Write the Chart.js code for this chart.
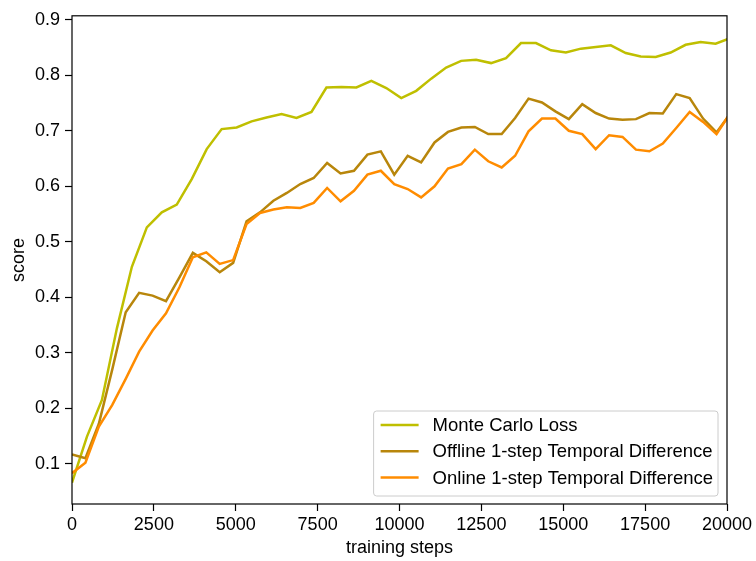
<!DOCTYPE html>
<html>
<head>
<meta charset="utf-8">
<script src="https://cdn.jsdelivr.net/npm/chart.js@4.4.1/dist/chart.umd.min.js"></script>
<style>
  html, body { margin: 0; padding: 0; background: #fff; }
  canvas { display: block; }
</style>
</head>
<body>
<canvas id="scoreChart" width="756" height="561"></canvas>
<script>
// Monte Carlo runs were evaluated on a slightly coarser step grid than the TD runs
const mcSteps = [0, 457, 914, 1371, 1828, 2285, 2742, 3199, 3656, 4113,
  4570, 5027, 5484, 5941, 6398, 6855, 7312, 7769, 8226, 8683,
  9140, 9597, 10054, 10511, 10968, 11425, 11882, 12339, 12796, 13253,
  13710, 14167, 14624, 15081, 15538, 15995, 16452, 16909, 17366, 17823,
  18280, 18737, 19194, 19651, 20108];
const mcScore = [0.066, 0.149, 0.215, 0.344, 0.455, 0.526, 0.553, 0.567, 0.613, 0.667,
  0.703, 0.706, 0.717, 0.724, 0.730, 0.723, 0.734, 0.778, 0.779, 0.778,
  0.790, 0.777, 0.759, 0.772, 0.794, 0.814, 0.826, 0.828, 0.822, 0.831,
  0.858, 0.858, 0.845, 0.841, 0.848, 0.851, 0.854, 0.840, 0.834, 0.833,
  0.841, 0.855, 0.860, 0.857, 0.867];

const tdSteps = [0, 410, 820, 1230, 1640, 2050, 2460, 2870, 3280, 3690,
  4100, 4510, 4920, 5330, 5740, 6150, 6560, 6970, 7380, 7790,
  8200, 8610, 9020, 9430, 9840, 10250, 10660, 11070, 11480, 11890,
  12300, 12710, 13120, 13530, 13940, 14350, 14760, 15170, 15580, 15990,
  16400, 16810, 17220, 17630, 18040, 18450, 18860, 19270, 19680, 20090];
const offlineTdScore = [0.117, 0.110, 0.172, 0.270, 0.373, 0.408, 0.403, 0.393, 0.436, 0.480,
  0.465, 0.445, 0.462, 0.537, 0.553, 0.574, 0.588, 0.604, 0.615, 0.642,
  0.623, 0.628, 0.657, 0.663, 0.621, 0.655, 0.643, 0.679, 0.698, 0.706,
  0.707, 0.694, 0.694, 0.723, 0.758, 0.751, 0.735, 0.721, 0.748, 0.732,
  0.722, 0.720, 0.721, 0.732, 0.731, 0.766, 0.759, 0.722, 0.697, 0.730];
const onlineTdScore = [0.083, 0.102, 0.167, 0.206, 0.253, 0.302, 0.340, 0.371, 0.418, 0.472,
  0.481, 0.460, 0.467, 0.532, 0.552, 0.558, 0.562, 0.561, 0.570, 0.597,
  0.573, 0.592, 0.621, 0.628, 0.604, 0.595, 0.580, 0.600, 0.632, 0.640,
  0.666, 0.645, 0.634, 0.655, 0.699, 0.722, 0.722, 0.700, 0.694, 0.667,
  0.692, 0.689, 0.666, 0.663, 0.677, 0.705, 0.734, 0.716, 0.694, 0.731];

const xTicks = [0, 2500, 5000, 7500, 10000, 12500, 15000, 17500, 20000];
const yTicks = [0.1, 0.2, 0.3, 0.4, 0.5, 0.6, 0.7, 0.8, 0.9];

const seriesLabels = ['Monte Carlo Loss', 'Offline 1-step Temporal Difference', 'Online 1-step Temporal Difference'];
const seriesColors = ['#bfbf00', '#b8860b', '#ff8c00'];

const FONT = '"Liberation Sans", Arial, sans-serif';
const FONT_SIZE = 18;
const LEGEND_FONT_SIZE = 18.5;
Chart.defaults.font.family = FONT;
Chart.defaults.font.size = FONT_SIZE;
Chart.defaults.color = '#000';

function toPoints(xs, ys) {
  return xs.map((x, i) => ({ x: x, y: ys[i] }));
}

function lineSet(label, color, xs, ys, order) {
  return {
    label: label,
    data: toPoints(xs, ys),
    borderColor: color,
    backgroundColor: color,
    borderWidth: 2.5,
    pointRadius: 0,
    tension: 0,
    fill: false,
    order: order
  };
}

// black box on all four sides of the plot
const frame = {
  id: 'frame',
  afterDatasetsDraw(chart) {
    const { ctx, chartArea: a } = chart;
    ctx.save();
    ctx.strokeStyle = '#000';
    ctx.lineWidth = 1.2;
    ctx.strokeRect(a.left, a.top, a.right - a.left, a.bottom - a.top);
    ctx.restore();
  }
};

// legend boxed in the lower right corner of the plot
const insetLegend = {
  id: 'insetLegend',
  afterDraw(chart) {
    const { ctx, chartArea: a } = chart;
    const sets = chart.data.datasets;
    ctx.save();
    ctx.font = LEGEND_FONT_SIZE + 'px ' + FONT;
    const textW = Math.max(...sets.map(d => ctx.measureText(d.label).width));
    const padX = 7, swatch = 38, gap = 14, rowH = 26.3;
    const w = padX + swatch + gap + textW + 5;
    const h = 85;
    const right = a.right - 9;
    const bottom = a.bottom - 8;
    const left = right - w, top = bottom - h;

    ctx.beginPath();
    ctx.roundRect(left, top, w, h, 3);
    ctx.fillStyle = 'rgba(255,255,255,0.8)';
    ctx.fill();
    ctx.strokeStyle = '#cccccc';
    ctx.lineWidth = 1;
    ctx.stroke();

    sets.forEach((d, i) => {
      const y = top + 14 + i * rowH;
      ctx.beginPath();
      ctx.moveTo(left + padX, y);
      ctx.lineTo(left + padX + swatch, y);
      ctx.strokeStyle = d.borderColor;
      ctx.lineWidth = 2.5;
      ctx.stroke();
      ctx.fillStyle = '#000';
      ctx.textAlign = 'left';
      ctx.textBaseline = 'middle';
      ctx.fillText(d.label, left + padX + swatch + gap, y + 1);
    });
    ctx.restore();
  }
};

const axisGrid = {
  drawOnChartArea: false,
  drawTicks: true,
  tickLength: 7,
  tickColor: '#000',
  tickWidth: 1.2,
  color: '#000'
};

new Chart(document.getElementById('scoreChart'), {
  type: 'line',
  data: {
    datasets: [
      lineSet(seriesLabels[0], seriesColors[0], mcSteps, mcScore, 3),
      lineSet(seriesLabels[1], seriesColors[1], tdSteps, offlineTdScore, 2),
      lineSet(seriesLabels[2], seriesColors[2], tdSteps, onlineTdScore, 1)
    ]
  },
  options: {
    responsive: false,
    animation: false,
    layout: { padding: { top: 15, right: 29, left: 0, bottom: 0 } },
    plugins: {
      legend: { display: false },
      tooltip: { enabled: false }
    },
    scales: {
      x: {
        type: 'linear',
        min: 0,
        max: 20000,
        border: { display: false },
        grid: axisGrid,
        afterBuildTicks: scale => { scale.ticks = xTicks.map(v => ({ value: v })); },
        afterFit: scale => { scale.height = 57; },
        ticks: {
          autoSkip: false,
          maxRotation: 0,
          padding: 3,
          callback: v => String(v)
        },
        title: {
          display: true,
          text: 'training steps',
          padding: { top: 0, bottom: 2 }
        }
      },
      y: {
        type: 'linear',
        min: 0.0275,
        max: 0.9072,
        border: { display: false },
        grid: axisGrid,
        afterBuildTicks: scale => { scale.ticks = yTicks.map(v => ({ value: v })); },
        afterFit: scale => { scale.width = 72; },
        ticks: {
          padding: 5,
          callback: v => v.toFixed(1)
        },
        title: {
          display: true,
          text: 'score',
          padding: { top: 8, bottom: 0 }
        }
      }
    }
  },
  plugins: [frame, insetLegend]
});
</script>
</body>
</html>
